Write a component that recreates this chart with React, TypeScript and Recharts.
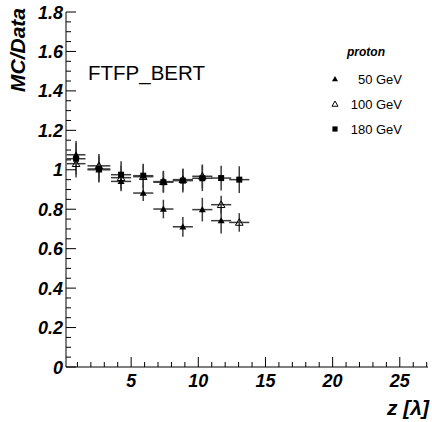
import React from 'react';
import { ScatterChart, Scatter, XAxis, YAxis, ErrorBar } from 'recharts';

// bin centres along z (in lambda) and half bin widths
const binCenters = [0.9, 2.6, 4.25, 5.9, 7.4, 8.85, 10.3, 11.7, 13.05];
const binHalfWidths = [0.7, 0.85, 0.75, 0.75, 0.75, 0.75, 0.75, 0.75, 0.75];

// MC/Data ratio per beam energy (null = no point)
const ratio50 = [1.076, 1.0, 0.941, 0.882, 0.801, 0.711, 0.798, 0.742, null];
const err50 = [0.07, 0.06, 0.05, 0.04, 0.047, 0.05, 0.06, 0.065, 0];
const ratio100 = [1.031, 1.02, 0.96, 0.965, 0.94, 0.95, 0.967, 0.823, 0.733];
const err100 = [0.07, 0.06, 0.06, 0.06, 0.055, 0.055, 0.06, 0.045, 0.047];
const ratio180 = [1.056, 1.004, 0.975, 0.97, 0.937, 0.945, 0.957, 0.958, 0.95];
const err180 = [0.08, 0.068, 0.068, 0.06, 0.053, 0.06, 0.065, 0.063, 0.068];

const yMajorTicks = [0, 0.2, 0.4, 0.6, 0.8, 1, 1.2, 1.4, 1.6, 1.8];
const xMajorTicks = [5, 10, 15, 20, 25];
const legendLabels = ['50 GeV', '100 GeV', '180 GeV'];

const X_DOMAIN: [number, number] = [0.15, 27.1];
const Y_DOMAIN: [number, number] = [0, 1.8];

const FONT = '"Liberation Sans", Arial, Helvetica, sans-serif';
const BAR = '#3c3c3c';

const toPoints = (vals: (number | null)[], errs: number[]) =>
  binCenters
    .map((x, i) => ({ x, y: vals[i], ex: binHalfWidths[i], ey: errs[i] }))
    .filter((p) => p.y != null);

const data50 = toPoints(ratio50, err50);
const data100 = toPoints(ratio100, err100);
const data180 = toPoints(ratio180, err180);

// minor ticks: 4 per major on y, every unit on x
const yTicks: number[] = [];
yMajorTicks.forEach((m, i) => {
  yTicks.push(m);
  if (i < yMajorTicks.length - 1) for (let k = 1; k < 4; k++) yTicks.push(+(m + k * 0.05).toFixed(2));
});
const xTicks = Array.from({ length: 27 }, (_, i) => i + 1);

const isMajorY = (v: number) => yMajorTicks.some((m) => Math.abs(m - v) < 1e-6);
const isMajorX = (v: number) => xMajorTicks.includes(v);
const fmtY = (v: number) => String(Number(v.toFixed(1)));

const labelStyle = { fontFamily: FONT, fontWeight: 'bold' as const, fontStyle: 'italic' as const, fontSize: 18, fill: '#000' };

const LeftTick = (props: any) => {
  const { x, y, payload } = props;
  const v = payload.value;
  const major = isMajorY(v);
  const ax = x + 3;
  return (
    <g>
      <line x1={ax} x2={ax + (major ? 10 : 5)} y1={y} y2={y} stroke="#000" />
      {major && (
        <text x={x} y={y + 6.5} textAnchor="end" {...labelStyle}>
          {fmtY(v)}
        </text>
      )}
    </g>
  );
};

const RightTick = (props: any) => {
  const { x, y, payload } = props;
  const major = isMajorY(payload.value);
  return <line x1={x} x2={x - (major ? 10 : 5)} y1={y} y2={y} stroke="#000" />;
};

const BottomTick = (props: any) => {
  const { x, y, payload } = props;
  const v = payload.value;
  const major = isMajorX(v);
  return (
    <g>
      <line x1={x} x2={x} y1={y} y2={y - (major ? 10 : 5)} stroke="#000" />
      {major && (
        <text x={x} y={y + 20} textAnchor="middle" {...labelStyle}>
          {v}
        </text>
      )}
    </g>
  );
};

const TopTick = (props: any) => {
  const { x, y, payload } = props;
  const major = isMajorX(payload.value);
  return <line x1={x} x2={x} y1={y} y2={y + (major ? 10 : 5)} stroke="#000" />;
};

const FilledTri = ({ cx, cy, s = 3.5 }: any) => (
  <polygon points={`${cx},${cy - s} ${cx - s},${cy + s * 0.75} ${cx + s},${cy + s * 0.75}`} fill="#000" />
);
const OpenTri = ({ cx, cy, s = 3.8 }: any) => (
  <polygon points={`${cx},${cy - s} ${cx - s},${cy + s * 0.75} ${cx + s},${cy + s * 0.75}`} fill="none" stroke="#000" strokeWidth={1} />
);
const Square = ({ cx, cy, s = 3 }: any) => <rect x={cx - s} y={cy - s} width={2 * s} height={2 * s} fill="#000" />;

const markers = [FilledTri, OpenTri, Square];

export default function App() {
  return (
    <div style={{ position: 'absolute', left: 0, top: 0, width: 432, height: 422, background: '#fff' }}>
      <ScatterChart width={432} height={422} margin={{ top: 12, right: 4, bottom: 0, left: 0 }}>
        <XAxis
          dataKey="x"
          type="number"
          domain={X_DOMAIN}
          ticks={xTicks}
          interval={0}
          height={55}
          tickSize={0}
          tickMargin={0}
          tickLine={false}
          tick={<BottomTick />}
          axisLine={{ stroke: '#000' }}
          allowDataOverflow
        />
        <XAxis
          xAxisId="top"
          orientation="top"
          type="number"
          domain={X_DOMAIN}
          ticks={xTicks}
          interval={0}
          height={0}
          tickSize={0}
          tickMargin={0}
          tickLine={false}
          tick={<TopTick />}
          axisLine={{ stroke: '#000' }}
          allowDataOverflow
        />
        <YAxis
          dataKey="y"
          type="number"
          domain={Y_DOMAIN}
          ticks={yTicks}
          interval={0}
          width={66}
          tickSize={0}
          tickMargin={3}
          tickLine={false}
          tick={<LeftTick />}
          axisLine={{ stroke: '#000' }}
          allowDataOverflow
        />
        <YAxis
          yAxisId="right"
          orientation="right"
          type="number"
          domain={Y_DOMAIN}
          ticks={yTicks}
          interval={0}
          width={0}
          tickSize={0}
          tickMargin={0}
          tickLine={false}
          tick={<RightTick />}
          axisLine={{ stroke: '#000' }}
          allowDataOverflow
        />
        <Scatter name="50 GeV" data={data50} isAnimationActive={false} shape={(p: any) => <FilledTri cx={p.cx} cy={p.cy} />}>
          <ErrorBar dataKey="ex" direction="x" width={0} stroke={BAR} strokeWidth={1.5} />
          <ErrorBar dataKey="ey" direction="y" width={0} stroke={BAR} strokeWidth={1.5} />
        </Scatter>
        <Scatter name="100 GeV" data={data100} isAnimationActive={false} shape={(p: any) => <OpenTri cx={p.cx} cy={p.cy} />}>
          <ErrorBar dataKey="ex" direction="x" width={0} stroke={BAR} strokeWidth={1.5} />
          <ErrorBar dataKey="ey" direction="y" width={0} stroke={BAR} strokeWidth={1.5} />
        </Scatter>
        <Scatter name="180 GeV" data={data180} isAnimationActive={false} shape={(p: any) => <Square cx={p.cx} cy={p.cy} />}>
          <ErrorBar dataKey="ex" direction="x" width={0} stroke={BAR} strokeWidth={1.5} />
          <ErrorBar dataKey="ey" direction="y" width={0} stroke={BAR} strokeWidth={1.5} />
        </Scatter>
      </ScatterChart>
      <svg width={432} height={422} style={{ position: 'absolute', left: 0, top: 0, pointerEvents: 'none' }}>
        <text
          transform="translate(25, 8) rotate(-90)"
          textAnchor="end"
          fontFamily={FONT}
          fontWeight="bold"
          fontStyle="italic"
          fontSize={21}
          fill="#000"
        >
          MC/Data
        </text>
        <text x={429} y={415} textAnchor="end" fontFamily={FONT} fontWeight="bold" fontStyle="italic" fontSize={21} fill="#000">
          z [λ]
        </text>
        <text x={88} y={80} fontFamily={FONT} fontSize={20.5} fill="#000">
          FTFP_BERT
        </text>
        <text x={366} y={56} textAnchor="middle" fontFamily={FONT} fontWeight="bold" fontStyle="italic" fontSize={12} fill="#000">
          proton
        </text>
        {legendLabels.map((lab, i) => {
          const M = markers[i];
          const cy = 79 + i * 25;
          return (
            <g key={lab}>
              <M cx={335} cy={cy} s={i === 2 ? 2.6 : 3} />
              <text x={402} y={cy + 4.5} textAnchor="end" fontFamily={FONT} fontSize={13} fill="#000">
                {lab}
              </text>
            </g>
          );
        })}
      </svg>
    </div>
  );
}
